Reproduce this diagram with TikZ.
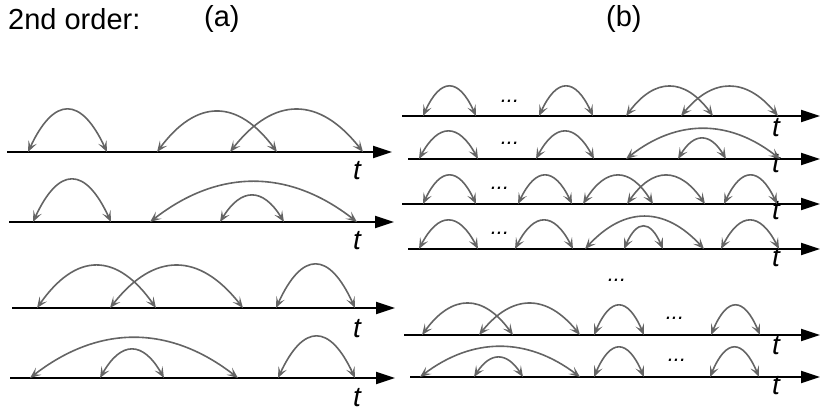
\documentclass[tikz,border=0pt]{standalone}
\usepackage{fontspec}
\setmainfont{Liberation Sans}
\usetikzlibrary{arrows.meta}
\tikzset{
  axis/.style={line width=2.2pt,-{Triangle[length=19pt,width=12pt]}},
  hop/.style={color={rgb,255:red,100;green,100;blue,100},line width=1.6pt,
    {Stealth[length=11pt,width=9pt,inset=5pt]}-{Stealth[length=11pt,width=9pt,inset=5pt]}},
  tlab/.style={anchor=north,inner sep=0pt,font=\fontsize{28}{28}\selectfont\itshape},
  dots/.style={inner sep=0pt,font=\fontsize{22}{22}\selectfont\itshape},
  title/.style={anchor=west,inner sep=0pt,font=\fontsize{29}{29}\selectfont}
}
% arc between two times on one axis: y, x1, x2, top
\newcommand\jump[4]{\draw[hop] (#2,#1) .. controls ({#2+0.33*(#3-#2)},{#1-4/3*(#1-#4)}) and ({#3-0.33*(#3-#2)},{#1-4/3*(#1-#4)}) .. (#3,#1);}
\begin{document}
\begin{tikzpicture}[x=1pt,y=1pt,yscale=-1]
\useasboundingbox (0,0) rectangle (827,420);

% Titles
\node[title] (ord) at (8,19) {2nd order:};
\node[title] (ta) at (204,19) {(a)};
\node[title] (tb) at (606,19) {(b)};

% Axes (a)
\foreach \ya/\xs/\xe/\tl in {152/7/392/175, 222/9/394/245, 308/12/395/333, 378/10/395/402}{
  \draw[axis] (\xs,\ya) -- (\xe,\ya);
  \node[tlab] at (357,\tl-14) {t};
}
% Axes (b)
\foreach \ya/\xs/\tl in {116/402/132, 159/408/168, 204/402/215, 249/408/262, 335/404/350, 377/410/390}{
  \draw[axis] (\xs,\ya) -- (820,\ya);
  \node[tlab] at (776,\tl-14) {t};
}

% Arcs (a)
\jump{152}{28}{107}{110} \jump{152}{157}{277}{112} \jump{152}{230}{363}{110}
\jump{222}{33}{111}{180} \jump{222}{150}{357}{182} \jump{222}{220}{284}{196}
\jump{308}{37}{156}{266} \jump{308}{110}{243}{266} \jump{308}{276}{355}{265}
\jump{378}{30}{238}{338} \jump{378}{100}{164}{350} \jump{378}{278}{355}{337}

% Arcs (b)
\jump{116}{423}{476}{87} \jump{116}{539}{593}{87} \jump{116}{626}{713}{87} \jump{116}{681}{778}{87}
\jump{159}{419}{478}{132} \jump{159}{536}{594}{132} \jump{159}{626}{780}{129} \jump{159}{678}{726}{139}
\jump{204}{423}{476}{176} \jump{204}{518}{572}{176} \jump{204}{583}{653}{176} \jump{204}{627}{705}{176} \jump{204}{724}{777}{176}
\jump{249}{419}{478}{221} \jump{249}{515}{573}{221} \jump{249}{585}{704}{217} \jump{249}{624}{663}{227} \jump{249}{721}{779}{221}
\jump{335}{422}{513}{304} \jump{335}{479}{580}{304} \jump{335}{594}{644}{306} \jump{335}{711}{760}{306}
\jump{377}{420}{580}{347} \jump{377}{474}{523}{358} \jump{377}{594}{644}{348} \jump{377}{710}{759}{348}

% Dots
\foreach \dx/\dy in {510/101, 510/143, 500/188, 500/233, 617/280, 675/318, 677/360}
  \node[dots] at (\dx,\dy) {...};
\end{tikzpicture}
\end{document}
